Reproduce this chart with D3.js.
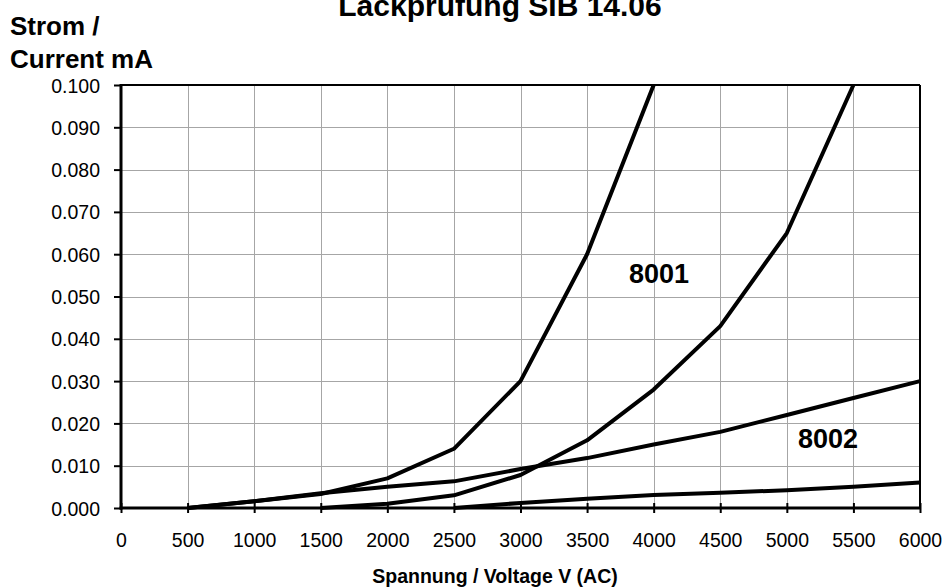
<!DOCTYPE html>
<html>
<head>
<meta charset="utf-8">
<script src="https://cdn.jsdelivr.net/npm/d3@7"></script>
<style>
  body { margin: 0; background: #fff; }
  svg { font-family: "Liberation Sans", Arial, sans-serif; }
</style>
</head>
<body>
<svg id="chart" width="945" height="587"></svg>
<script>
// voltages (V) and measured currents (mA)
var voltages = [500, 1000, 1500, 2000, 2500, 3000, 3500, 4000, 4500, 5000, 5500, 6000];

var curveA = [0, 0.0016, 0.0033, 0.007, 0.014, 0.030, 0.060, 0.100];                       // 500..4000
var curveB = [0, 0.001, 0.003, 0.0078, 0.016, 0.028, 0.043, 0.065, 0.100];                  // 1500..5500
var curveC = [0, 0.0016, 0.0035, 0.005, 0.0063, 0.0092, 0.0118, 0.015, 0.018, 0.022, 0.026, 0.030]; // 500..6000
var curveD = [0, 0.0012, 0.0022, 0.0031, 0.0036, 0.0042, 0.005, 0.006];                     // 2500..6000

var xTicks = [0, 500, 1000, 1500, 2000, 2500, 3000, 3500, 4000, 4500, 5000, 5500, 6000];
var yTicks = [0, 0.01, 0.02, 0.03, 0.04, 0.05, 0.06, 0.07, 0.08, 0.09, 0.1];

var labels = [
    { text: "8001", x: 4040, y: 0.0532 },
    { text: "8002", x: 5310, y: 0.0142 }
];

function pairs(startV, values) {
    var i0 = voltages.indexOf(startV);
    return values.map(function(v, i){ return { v: voltages[i0 + i], c: v }; });
}

var series = [
    pairs(500, curveA),
    pairs(1500, curveB),
    pairs(500, curveC),
    pairs(2500, curveD)
];

var dimensions = {
    width: 945,
    height: 587,
    margin: { top: 85, bottom: 79, left: 121, right: 25 }
};

var svg = d3.select("#chart");

var xScale = d3.scaleLinear()
               .domain([0, 6000])
               .range([dimensions.margin.left, dimensions.width - dimensions.margin.right]);

var yScale = d3.scaleLinear()
               .domain([0, 0.1])
               .range([dimensions.height - dimensions.margin.bottom, dimensions.margin.top]);

var x0 = xScale(0), x1 = xScale(6000), y0 = yScale(0), y1 = yScale(0.1);

// grid
var grid = svg.append("g").attr("stroke", "#a6a6a6").attr("stroke-width", 1);
grid.selectAll("line.v")
    .data(xTicks.slice(1, -1))
    .enter().append("line")
    .attr("x1", function(d){ return Math.round(xScale(d)) + 0.5; })
    .attr("x2", function(d){ return Math.round(xScale(d)) + 0.5; })
    .attr("y1", y1).attr("y2", y0);
grid.selectAll("line.h")
    .data(yTicks.slice(1, -1))
    .enter().append("line")
    .attr("y1", function(d){ return Math.round(yScale(d)) + 0.5; })
    .attr("y2", function(d){ return Math.round(yScale(d)) + 0.5; })
    .attr("x1", x0).attr("x2", x1);

// frame top / right
svg.append("line").attr("x1", x0).attr("x2", x1).attr("y1", y1).attr("y2", y1)
   .attr("stroke", "#000").attr("stroke-width", 2);
svg.append("line").attr("x1", x1).attr("x2", x1).attr("y1", y1).attr("y2", y0)
   .attr("stroke", "#000").attr("stroke-width", 2);

// curves
var lineGen = d3.line()
                .x(function(d){ return xScale(d.v); })
                .y(function(d){ return yScale(d.c); });

svg.append("g")
   .selectAll("path")
   .data(series)
   .enter().append("path")
   .attr("d", lineGen)
   .attr("fill", "none")
   .attr("stroke", "#000")
   .attr("stroke-width", 4)
   .attr("stroke-linejoin", "round");

// axes
var xAxisGen = d3.axisBottom(xScale).tickValues(xTicks).tickSize(5).tickFormat(d3.format("d"));
var xAxis = svg.append("g")
               .attr("transform", "translate(0," + y0 + ")")
               .call(xAxisGen);
xAxis.select(".domain").remove();
xAxis.selectAll(".tick line").attr("y1", -5).attr("stroke-width", 2);
xAxis.selectAll("text")
     .attr("y", 39)
     .attr("dy", 0)
     .style("font-size", "19.5px")
     .style("font-family", "'Liberation Sans', Arial, sans-serif")
     .attr("fill", "#000");

var yAxisGen = d3.axisLeft(yScale).tickValues(yTicks).tickSize(7).tickFormat(d3.format(".3f"));
var yAxis = svg.append("g")
               .attr("transform", "translate(" + x0 + ",0)")
               .call(yAxisGen);
yAxis.select(".domain").remove();
yAxis.selectAll(".tick line").attr("stroke-width", 2);
yAxis.selectAll("text")
     .attr("x", -21)
     .attr("dy", "0.36em")
     .style("font-size", "19.5px")
     .style("font-family", "'Liberation Sans', Arial, sans-serif")
     .attr("fill", "#000");

// axis lines
svg.append("line").attr("x1", x0).attr("x2", x0).attr("y1", y1 - 1).attr("y2", y0 + 1.5)
   .attr("stroke", "#000").attr("stroke-width", 3);
svg.append("line").attr("x1", x0 - 1.5).attr("x2", x1 + 1).attr("y1", y0).attr("y2", y0)
   .attr("stroke", "#000").attr("stroke-width", 3);

// series labels
svg.selectAll("text.lbl")
   .data(labels)
   .enter().append("text")
   .attr("class", "lbl")
   .attr("x", function(d){ return xScale(d.x); })
   .attr("y", function(d){ return yScale(d.y); })
   .attr("text-anchor", "middle")
   .style("font-size", "27px")
   .style("font-weight", "bold")
   .text(function(d){ return d.text; });

// titles
svg.append("text")
   .attr("x", 500)
   .attr("y", 16)
   .attr("text-anchor", "middle")
   .style("font-size", "30px")
   .style("font-weight", "bold")
   .text("Lackprüfung SIB 14.06");

svg.append("text")
   .attr("x", 10)
   .attr("y", 35)
   .style("font-size", "26px")
   .style("font-weight", "bold")
   .text("Strom /");

svg.append("text")
   .attr("x", 10)
   .attr("y", 68)
   .style("font-size", "26px")
   .style("font-weight", "bold")
   .text("Current mA");

svg.append("text")
   .attr("x", 495)
   .attr("y", 583)
   .attr("text-anchor", "middle")
   .style("font-size", "19.5px")
   .style("font-weight", "bold")
   .text("Spannung / Voltage V (AC)");
</script>
</body>
</html>
